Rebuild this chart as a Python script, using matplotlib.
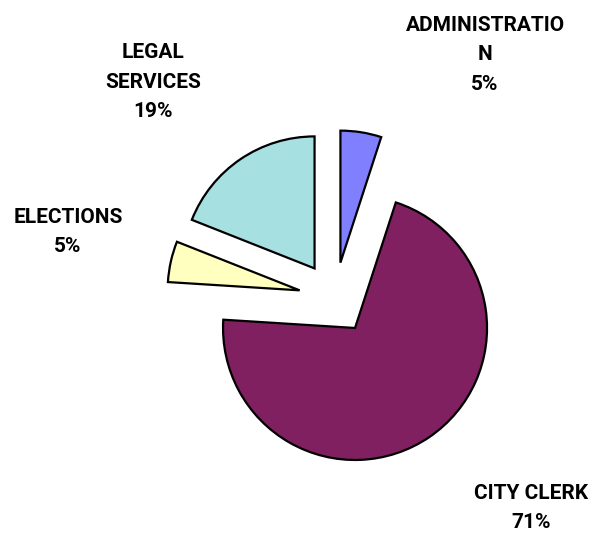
import matplotlib
matplotlib.use('Agg')
import matplotlib.pyplot as plt

# Department share of budget
departments = ['ADMINISTRATIO\nN', 'CITY CLERK', 'ELECTIONS', 'LEGAL\nSERVICES']
percents = [5, 71, 5, 19]
colors = ['#8080FF', '#802060', '#FFFFC0', '#A6E0E0']

W, H = 594, 533
fig = plt.figure(figsize=(W / 100, H / 100), dpi=100)
ax = fig.add_axes([0, 0, 1, 1])

radius = 132
center = (334.8, H - 298.2)
# explode is in data units here (axes are in pixels)
ax.pie(percents, colors=colors, startangle=90, counterclock=False,
       center=center, radius=radius, explode=[36] * 4,
       wedgeprops=dict(edgecolor='black', linewidth=1.6), frame=True)
ax.set_xlim(0, W)
ax.set_ylim(0, H)
ax.set_aspect('equal')
ax.axis('off')

# label spots (pixel coordinates, y from top)
label_pos = [(485, 55), (531, 508), (68, 232), (153, 82)]
for name, pct, (x, y) in zip(departments, percents, label_pos):
    ax.text(x, H - y, f'{name}\n{pct}%', ha='center', va='center',
            fontsize=15, fontweight='semibold', family='Roboto',
            linespacing=1.7)

fig.savefig('out.png', dpi=100)
